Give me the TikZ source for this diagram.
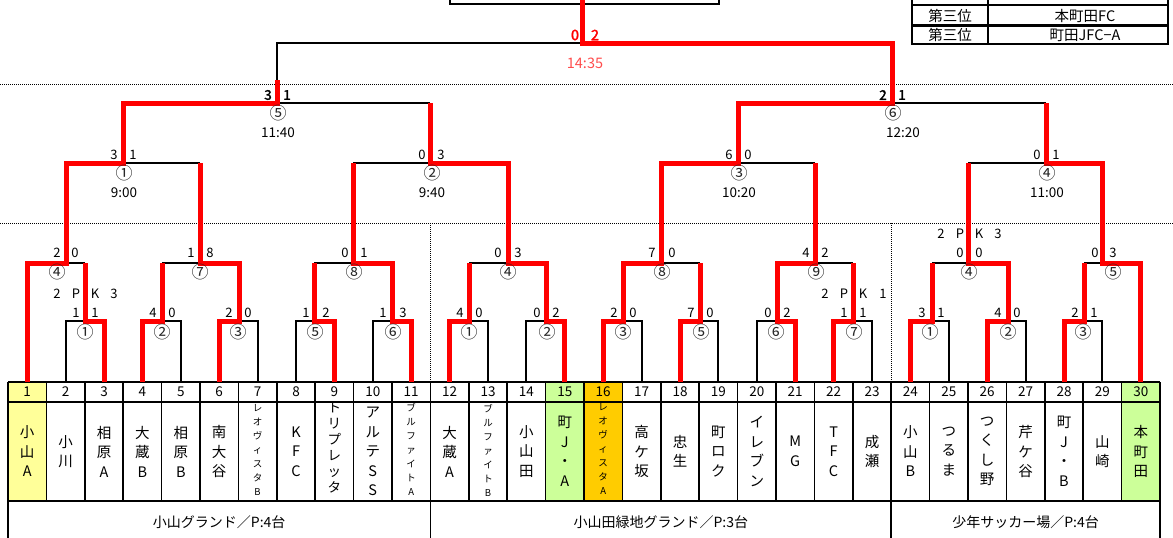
\documentclass[tikz,border=0pt]{standalone}
\usepackage{fontspec}
\setmainfont{Noto Sans CJK JP}[AutoFakeBold=2]
\definecolor{winred}{HTML}{FF0000}
\definecolor{timered}{HTML}{FF4D4D}
\definecolor{cyel}{HTML}{FFFF99}
\definecolor{cgrn}{HTML}{CCFF99}
\definecolor{corg}{HTML}{FFCC00}
\begin{document}
\begin{tikzpicture}[x=1pt,y=-1pt,
  win/.style={line width=5pt,draw=winred,line join=miter},
  lose/.style={line width=2pt,draw=black},
  gridline/.style={line width=1.6pt,draw=black},
  dotline/.style={line width=1pt,dash pattern=on 1pt off 1pt},
  sc/.style={inner sep=0pt,font=\fontsize{13}{13}\selectfont},
  scb/.style={inner sep=0pt,font=\fontsize{13.5}{13.5}\selectfont\bfseries},
  cn/.style={inner sep=0pt,font=\fontsize{17}{17}\selectfont,text=black!85},
  tm/.style={inner sep=0pt,font=\fontsize{13.5}{13.5}\selectfont},
  numf/.style={inner sep=0pt,font=\fontsize{13.5}{13.5}\selectfont},
  namef/.style={inner sep=0pt,align=center,font=\fontsize{14.5}{19.5}\selectfont},
  namesm/.style={inner sep=0pt,align=center,font=\fontsize{9.5}{14}\selectfont},
  fieldf/.style={inner sep=0pt,font=\fontsize{14}{14}\selectfont},
  tabf/.style={inner sep=0pt,font=\fontsize{14.5}{14.5}\selectfont}]
\useasboundingbox (0,0) rectangle (1173,538);

% team anchor coordinates (top of table)
\foreach \i in {1,...,30}{\coordinate (t\i) at ({8+38.4*(\i-0.5)},382);}

% ---------- table fills ----------
\fill[cyel] (8,382) rectangle (46.4,501);
\fill[cgrn] (545.6,382) rectangle (584,501);
\fill[corg] (584,382) rectangle (622.4,501);
\fill[cgrn] (1121.6,382) rectangle (1160,501);

% ---------- dotted separators ----------
\draw[dotline] (0,84) -- (1173,84);
\draw[dotline] (0,223) -- (1173,223);
\draw[dotline] (430.4,223) -- (430.4,382);
\draw[dotline] (891.2,223) -- (891.2,382);

% ---------- table grid ----------
\foreach \yy in {382,402,501}{\draw[gridline] (8,\yy) -- (1160,\yy);}
\foreach \i in {0,...,30}{\draw[gridline] ({8+38.4*\i},382) -- ({8+38.4*\i},501);}
\foreach \xx in {8,430.4,891.2,1160}{\draw[gridline] (\xx,501) -- (\xx,540);}

% numbers
\foreach \i in {1,...,30}{\node[numf] (n\i) at ({8+38.4*(\i-0.5)},392) {\i};}

% names
\foreach \i/\nm in {1/小\\山\\A,2/小\\川,3/相\\原\\A,4/大\\蔵\\B,5/相\\原\\B,6/南\\大\\谷,
  8/K\\F\\C,10/ア\\ル\\テ\\S\\S,12/大\\蔵\\A,14/小\\山\\田,15/町\\J\\・\\A,17/高\\ケ\\坂,
  18/忠\\生,19/町\\ロ\\ク,20/イ\\レ\\ブ\\ン,21/M\\G,22/T\\F\\C,23/成\\瀬,24/小\\山\\B,
  25/つ\\る\\ま,26/つ\\く\\し\\野,27/芹\\ケ\\谷,28/町\\J\\・\\B,29/山\\崎,30/本\\町\\田}
  {\node[namef] (m\i) at ({8+38.4*(\i-0.5)},451.5) {\nm};}
\node[namesm] (m7) at (257.6,450) {レ\\オ\\ヴ\\ィ\\ス\\タ\\B};
\node[namesm] (m11) at (411.2,449) {ブ\\ル\\フ\\ァ\\イ\\ト\\A};
\node[namesm] (m13) at (488,450) {ブ\\ル\\フ\\ァ\\イ\\ト\\B};
\node[namesm] (m16) at (603.2,449) {レ\\オ\\ヴ\\ィ\\ス\\タ\\A};
\node[inner sep=0pt,align=center,font=\fontsize{13.5}{16}\selectfont] (m9) at (334.4,448) {ト\\リ\\プ\\レ\\ッ\\タ};

% fields
\node[fieldf] (f1) at (219.2,522) {小山グランド／P:4台};
\node[fieldf] (f2) at (660.8,522) {小山田緑地グランド／P:3台};
\node[fieldf] (f3) at (1025.6,522) {少年サッカー場／P:4台};

% ---------- top box & result table ----------
\draw[line width=2.5pt] (450,-2) -- (450,4) -- (719,4) -- (719,-2);
\draw[line width=2.5pt] (912,-2) -- (912,44) -- (1168,44) -- (1168,-2);
\draw[line width=2.5pt] (912,5) -- (1168,5);
\draw[line width=2.5pt] (912,25.5) -- (1168,25.5);
\draw[line width=2.5pt] (988,-2) -- (988,44);
\node[tabf] (r1a) at (950,15.5) {第三位};
\node[tabf] (r1b) at (1085,15.5) {本町田FC};
\node[tabf] (r2a) at (950,35) {第三位};
\node[tabf] (r2b) at (1085,35) {町田JFC−A};

% ---------- losing (black) bracket lines ----------
\draw[lose] (t2) |- (85,321);
\draw[lose] (t5) |- (162,321);
\draw[lose] (t7) |- (239,321);
\draw[lose] (t8) |- (314,321);
\draw[lose] (t10) |- (392,321);
\draw[lose] (t13) |- (469,321);
\draw[lose] (t14) |- (546,321);
\draw[lose] (t17) |- (623,321);
\draw[lose] (t19) |- (700,321);
\draw[lose] (t20) |- (777,321);
\draw[lose] (t23) |- (853,321);
\draw[lose] (t25) |- (932,321);
\draw[lose] (t27) |- (1008,321);
\draw[lose] (t29) |- (1084,321);
\draw[lose] (66,263) -- (85,263);
\draw[lose] (162,263) -- (200,263);
\draw[lose] (314,263) -- (353,263);
\draw[lose] (469,263) -- (508,263);
\draw[lose] (661,263) -- (700,263);
\draw[lose] (815,263) -- (853,263);
\draw[lose] (932,263) -- (968,263);
\draw[lose] (1084,263) -- (1102,263);
\draw[lose] (123,163) -- (200,163);
\draw[lose] (353,163) -- (430,163);
\draw[lose] (738,163) -- (815,163);
\draw[lose] (968,163) -- (1046,163);
\draw[lose] (277,103) -- (430,103);
\draw[lose] (892,103) -- (1046,103);
\draw[lose] (277,82) -- (277,43) -- (582,43);

% ---------- winning (red) paths ----------
\draw[win] (t1) |- (66,263) -- (66,163) -- (123,163) -- (123,103) -- (277,103) -- (277,80);
\draw[win] (t3) |- (85,321) -- (85,263);
\draw[win] (t4) |- (162,321) -- (162,263);
\draw[win] (t6) |- (239,321) -- (239,263) -- (200,263) -- (200,163);
\draw[win] (t9) |- (314,321) -- (314,263);
\draw[win] (t11) |- (392,321) -- (392,263) -- (353,263) -- (353,163);
\draw[win] (t12) |- (469,321) -- (469,263);
\draw[win] (t15) |- (546,321) -- (546,263) -- (508,263) -- (508,163) -- (430,163) -- (430,103);
\draw[win] (t16) |- (623,321) -- (623,263) -- (661,263) -- (661,163) -- (738,163) -- (738,103) -- (892,103) -- (892,43) -- (582,43) -- (582,-2);
\draw[win] (t18) |- (700,321) -- (700,263);
\draw[win] (t21) |- (777,321) -- (777,263) -- (815,263) -- (815,163);
\draw[win] (t22) |- (853,321) -- (853,263);
\draw[win] (t24) |- (932,321) -- (932,263);
\draw[win] (t26) |- (1008,321) -- (1008,263) -- (968,263) -- (968,163);
\draw[win] (t28) |- (1084,321) -- (1084,263);
\draw[win] (t30) |- (1102,263) -- (1102,163) -- (1046,163) -- (1046,103);

% ---------- round 1 labels ----------
\foreach \c/\xa/\xb/\sa/\sb/\nm in {85/76/95/1/1/①,162/153/172/4/0/②,238/229/248/2/0/③,
  315/306/326/1/2/⑤,393/383/403/1/3/⑥,469/460/479/4/0/①,547/537/556/0/2/②,
  623/614/633/2/0/③,701/691/710/7/0/⑤,776/768/787/0/2/⑥,854/844/863/1/1/⑦,
  930/922/941/3/1/①,1008/998/1017/4/0/②,1083/1075/1094/2/1/③}
  {\node[sc] at (\xa,313) {\sa}; \node[sc] at (\xb,313) {\sb}; \node[cn] at (\c,332) {\nm};}
% PK labels
\foreach \xx/\tt in {57/2,76/P,95/K,114/3}{\node[sc] at (\xx,294) {\tt};}
\foreach \xx/\tt in {825/2,844/P,863/K,883/1}{\node[sc] at (\xx,294) {\tt};}
\foreach \xx/\tt in {941/2,960/P,979/K,998/3}{\node[sc] at (\xx,234) {\tt};}

% ---------- round 2 labels ----------
\foreach \c/\xa/\xb/\sa/\sb/\nm in {57/57/75/2/0/④,200/191/210/1/8/⑦,354/345/364/0/1/⑧,
  508/498/518/0/3/④,662/652/672/7/0/⑧,816/806/825/4/2/⑨,969/960/979/0/0/④,1113/1095/1113/0/3/⑤}
  {\node[sc] at (\xa,253) {\sa}; \node[sc] at (\xb,253) {\sb}; \node[cn] at (\c,272) {\nm};}

% ---------- round 3 labels ----------
\foreach \c/\xa/\xb/\sa/\sb/\nm/\tt in {124/114/133/3/1/①/9:00,432/422/441/0/3/②/9:40,
  739/729/748/6/0/③/10:20,1047/1037/1056/0/1/④/11:00}
  {\node[sc] at (\xa,155) {\sa}; \node[sc] at (\xb,155) {\sb}; \node[cn] at (\c,173) {\nm};
   \node[tm] at (\c,193) {\tt};}

% ---------- semifinal labels ----------
\node[scb] at (268,95) {3}; \node[scb] at (287,95) {1};
\node[cn] (c5) at (278,113) {⑤}; \node[tm] (tm5) at (278,133) {11:40};
\node[scb] at (883,95) {2}; \node[scb] at (902,95) {1};
\node[cn] (c6) at (893,113) {⑥}; \node[tm] (tm6) at (903,133) {12:20};

% ---------- final labels ----------
\node[scb,text=winred,font=\fontsize{14.5}{14.5}\selectfont\bfseries] (fs1) at (575,35) {0};
\node[scb,text=winred,font=\fontsize{14.5}{14.5}\selectfont\bfseries] (fs2) at (595,35) {2};
\node[tm,text=timered,font=\fontsize{14.5}{14.5}\selectfont] (ftm) at (585,63) {14:35};
\end{tikzpicture}
\end{document}
